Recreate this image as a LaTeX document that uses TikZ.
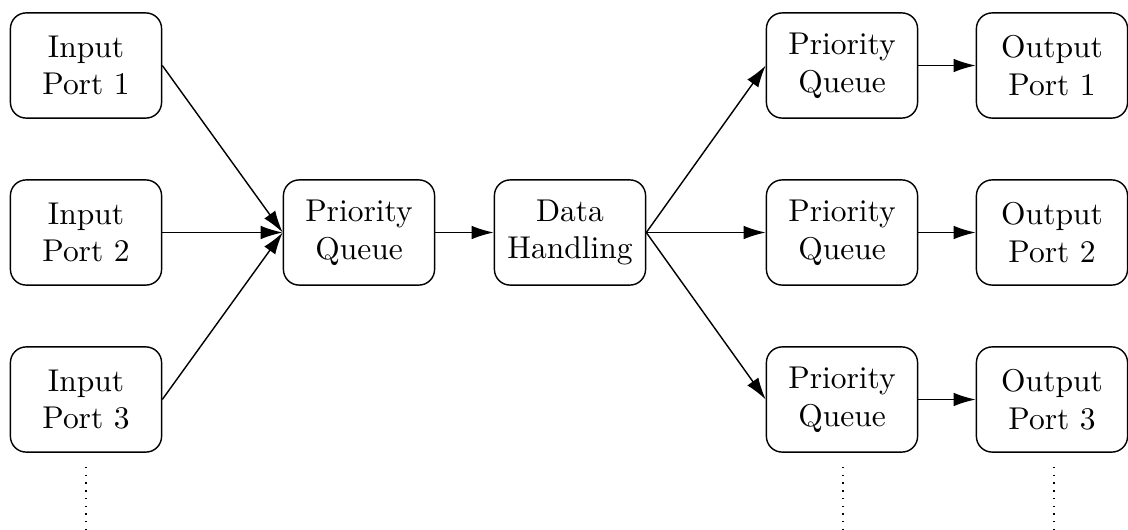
\documentclass[tikz,border=0pt]{standalone}
\usetikzlibrary{arrows.meta}
\begin{document}
\begin{tikzpicture}[x=0.3175pt,y=-0.3175pt,
  box/.style={draw,line width=0.45pt,rounded corners=5pt,align=center,
    minimum width=48pt,minimum height=33.4pt,inner sep=0pt},
  conn/.style={line width=0.45pt,-{Latex[length=7pt,width=4.3pt]}},
  dots/.style={line width=0.45pt,dotted}]
\useasboundingbox (0,0) rectangle (1128,530);
\node[box] (in1) at (86,65.5) {Input\\Port 1};
\node[box] (in2) at (86,232.5) {Input\\Port 2};
\node[box] (in3) at (86,399.5) {Input\\Port 3};
\node[box] (pq) at (359,232.5) {Priority\\Queue};
\node[box] (dh) at (570,232.5) {Data\\Handling};
\node[box] (pq1) at (842,65.5) {Priority\\Queue};
\node[box] (pq2) at (842,232.5) {Priority\\Queue};
\node[box] (pq3) at (842,399.5) {Priority\\Queue};
\node[box] (out1) at (1052,65.5) {Output\\Port 1};
\node[box] (out2) at (1052,232.5) {Output\\Port 2};
\node[box] (out3) at (1052,399.5) {Output\\Port 3};
\draw[conn] (in1.east) -- (pq.west);
\draw[conn] (in2.east) -- (pq.west);
\draw[conn] (in3.east) -- (pq.west);
\draw[conn] (pq.east) -- (dh.west);
\draw[conn] (dh.east) -- (pq1.west);
\draw[conn] (dh.east) -- (pq2.west);
\draw[conn] (dh.east) -- (pq3.west);
\draw[conn] (pq1.east) -- (out1.west);
\draw[conn] (pq2.east) -- (out2.west);
\draw[conn] (pq3.east) -- (out3.west);
\coordinate (d1a) at (86,467); \coordinate (d1b) at (86,530);
\coordinate (d2a) at (843,467); \coordinate (d2b) at (843,530);
\coordinate (d3a) at (1054,467); \coordinate (d3b) at (1054,530);
\draw[dots] (d1a) -- (d1b);
\draw[dots] (d2a) -- (d2b);
\draw[dots] (d3a) -- (d3b);
\end{tikzpicture}
\end{document}
